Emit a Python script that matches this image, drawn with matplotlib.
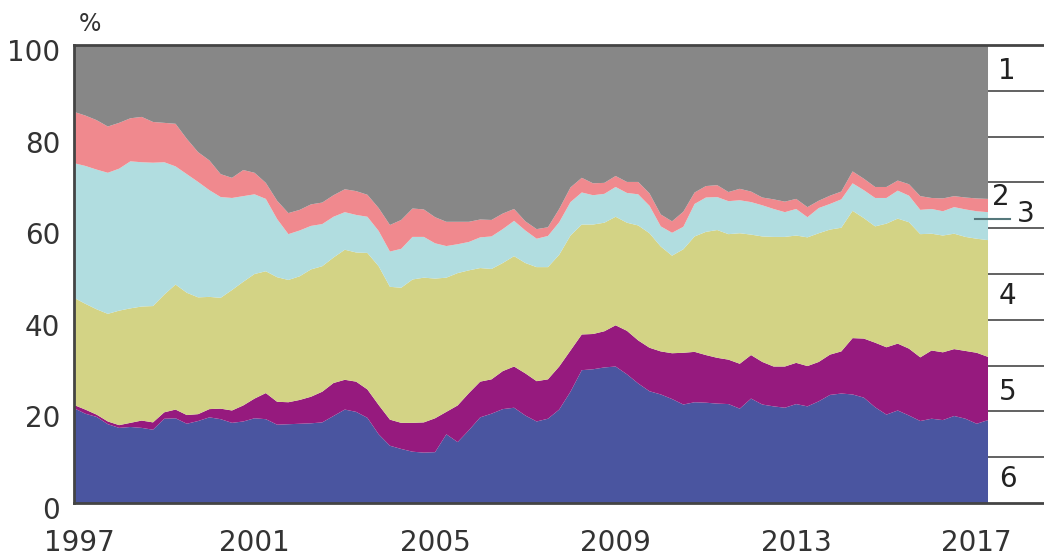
import numpy as np
import matplotlib
matplotlib.use("Agg")
import matplotlib.pyplot as plt
import matplotlib.transforms as mtransforms

# quarterly shares, % (1997 Q1 .. 2017 Q2)
quarters = 1997 + 0.25 * np.arange(82)

share_6 = [20.7, 19.5, 18.8, 17.2, 16.4, 16.6, 16.4, 16.0, 18.4, 18.5,
           17.3, 17.9, 18.7, 18.3, 17.5, 17.8, 18.5, 18.3, 17.1, 17.2,
           17.3, 17.4, 17.6, 19.0, 20.4, 19.9, 18.6, 15.0, 12.5, 11.8,
           11.2, 11.0, 11.1, 15.0, 13.3, 15.9, 18.7, 19.5, 20.5, 20.8,
           19.1, 17.8, 18.4, 20.4, 24.3, 29.0, 29.2, 29.6, 29.8, 28.1,
           26.1, 24.4, 23.7, 22.7, 21.5, 22.0, 21.9, 21.7, 21.6, 20.6,
           22.8, 21.5, 21.1, 20.8, 21.6, 21.1, 22.2, 23.6, 23.9, 23.7,
           23.0, 20.9, 19.3, 20.2, 19.1, 17.9, 18.4, 18.1, 19.0, 18.4,
           17.3, 18.1]
share_5 = [0.7, 0.9, 0.5, 0.6, 0.6, 0.9, 1.6, 1.6, 1.4, 1.9,
           1.9, 1.5, 1.8, 2.3, 2.7, 3.5, 4.3, 5.7, 5.0, 4.8,
           5.2, 5.8, 6.7, 7.2, 6.5, 6.6, 6.2, 6.4, 5.7, 5.7,
           6.3, 6.6, 7.4, 4.9, 8.0, 8.1, 7.8, 7.5, 8.3, 9.0,
           9.2, 8.8, 8.6, 9.4, 9.0, 7.8, 7.7, 7.9, 9.0, 9.5,
           9.4, 9.5, 9.4, 10.0, 11.3, 11.0, 10.4, 10.0, 9.7, 9.8,
           9.5, 9.3, 8.7, 9.0, 9.0, 8.8, 8.6, 8.8, 9.2, 12.3,
           12.9, 14.1, 14.7, 14.6, 14.6, 13.9, 14.9, 14.8, 14.6, 14.8,
           15.5, 13.8]
share_4 = [23.4, 23.1, 23.0, 23.5, 25.0, 25.0, 24.9, 25.4, 25.7, 27.3,
           26.7, 25.5, 24.5, 24.2, 26.3, 27.0, 27.2, 26.6, 27.2, 26.7,
           27.0, 27.8, 27.4, 27.4, 28.4, 28.2, 29.8, 30.3, 29.0, 29.5,
           31.3, 31.6, 30.5, 29.3, 28.9, 26.8, 24.8, 24.1, 23.6, 24.1,
           24.1, 24.9, 24.5, 24.4, 25.1, 24.0, 23.9, 23.7, 23.7, 23.6,
           25.1, 25.0, 22.9, 21.3, 22.6, 25.2, 26.9, 27.9, 27.4, 28.5,
           26.3, 27.4, 28.3, 28.3, 27.8, 28.1, 28.1, 27.3, 27.0, 27.8,
           26.3, 25.4, 27.0, 27.3, 27.6, 26.9, 25.5, 25.5, 25.2, 24.9,
           24.9, 25.5]
share_3 = [29.4, 30.1, 30.5, 30.8, 31.0, 32.1, 31.5, 31.3, 28.9, 25.8,
           25.9, 25.2, 23.3, 22.0, 20.1, 18.7, 17.4, 15.8, 12.7, 10.0,
           10.0, 9.5, 9.2, 8.9, 8.2, 8.2, 7.9, 7.7, 7.7, 8.5,
           9.3, 8.9, 7.7, 6.9, 6.3, 6.2, 6.7, 7.1, 7.4, 7.7,
           7.1, 6.2, 6.8, 7.1, 7.3, 7.0, 6.4, 6.3, 6.5, 6.5,
           6.8, 6.0, 4.4, 5.0, 4.9, 7.1, 7.5, 7.2, 7.2, 7.2,
           7.1, 6.8, 6.1, 5.4, 5.8, 4.4, 5.5, 5.6, 6.2, 6.0,
           6.1, 6.2, 5.6, 6.1, 5.8, 5.3, 5.4, 5.3, 5.8, 6.0,
           6.0, 6.1]
share_2 = [11.2, 11.0, 10.8, 10.1, 10.0, 9.4, 9.9, 8.9, 8.6, 9.3,
           7.7, 6.5, 6.5, 5.0, 4.4, 5.7, 4.7, 3.5, 4.0, 4.6,
           4.5, 4.7, 4.7, 4.7, 5.0, 5.2, 4.8, 5.0, 5.8, 6.3,
           6.2, 6.0, 5.7, 5.3, 4.9, 4.4, 3.9, 3.6, 3.4, 2.6,
           2.0, 2.1, 1.9, 2.9, 3.2, 3.2, 2.6, 2.4, 2.4, 2.4,
           2.7, 2.7, 2.6, 2.5, 3.3, 2.5, 2.5, 2.6, 2.0, 2.5,
           2.3, 1.7, 2.1, 2.3, 2.2, 2.2, 1.6, 1.8, 1.7, 2.6,
           2.5, 2.4, 2.4, 2.2, 2.5, 3.0, 2.4, 2.8, 2.4, 2.6,
           2.8, 2.9]
share_1 = [14.6, 15.4, 16.4, 17.8, 17.0, 16.0, 15.7, 16.8, 17.0, 17.2,
           20.5, 23.4, 25.2, 28.2, 29.0, 27.3, 27.9, 30.1, 34.0, 36.7,
           36.0, 34.8, 34.4, 32.8, 31.5, 31.9, 32.7, 35.6, 39.3, 38.2,
           35.7, 35.9, 37.6, 38.6, 38.6, 38.6, 38.1, 38.2, 36.8, 35.8,
           38.5, 40.2, 39.8, 35.8, 31.1, 29.0, 30.2, 30.1, 28.6, 29.9,
           29.9, 32.4, 37.0, 38.5, 36.4, 32.2, 30.8, 30.6, 32.1, 31.4,
           32.0, 33.3, 33.7, 34.2, 33.6, 35.4, 34.0, 32.9, 32.0, 27.6,
           29.2, 31.0, 31.0, 29.6, 30.4, 33.0, 33.4, 33.5, 33.0, 33.3,
           33.5, 33.6]

series = [share_6, share_5, share_4, share_3, share_2, share_1]
colors = ["#4a55a0", "#961a7e", "#d3d385", "#b1dde0", "#f0898e", "#878787"]

year_ticks = [1997, 2001, 2005, 2009, 2013, 2017]
y_ticks = [0, 20, 40, 60, 80, 100]

# series numbers in the right-hand margin
label_text = ["1", "2", "3", "4", "5", "6"]
label_x = [2017.67, 2017.54, 2018.09, 2017.69, 2017.69, 2017.69]
label_y = [94.3, 66.8, 63.1, 45.2, 24.2, 5.2]

fig = plt.figure(figsize=(10.44, 5.6), dpi=100)
ax = fig.add_axes([74 / 1044, 57 / 560, 970 / 1044, 458 / 560])

ax.stackplot(quarters, *series, colors=colors, linewidth=0)

x_end = quarters[-1]
x_right = x_end + 56 / 45.14
ax.set_xlim(quarters[0], x_right)
ax.set_ylim(0, 100)

# separator lines in the legend strip
ax.hlines(np.arange(10, 100, 10), x_end, x_right, colors="#555555", lw=1.3)
ax.plot([2016.96, 2017.74], [62.0, 62.0], color="#55787c", lw=1.5)

for t, x, y in zip(label_text, label_x, label_y):
    ax.text(x, y, t, fontsize=20, color="#222222", ha="center", va="center")

ax.set_xticks(year_ticks)
ax.set_yticks(y_ticks)
ax.tick_params(axis="both", length=0, labelsize=20, colors="#333333")
ax.tick_params(axis="x", pad=19)
ax.tick_params(axis="y", pad=10)
offset = mtransforms.ScaledTranslation(0, -5 / 100, fig.dpi_scale_trans)
for lab in ax.get_yticklabels():
    lab.set_transform(lab.get_transform() + offset)
first = ax.get_xticklabels()[0]
first.set_transform(first.get_transform() +
                    mtransforms.ScaledTranslation(5 / 100, 0, fig.dpi_scale_trans))

for side in ["left", "top", "bottom"]:
    ax.spines[side].set_color("#444444")
    ax.spines[side].set_linewidth(2)
ax.spines["right"].set_visible(False)

fig.text(90 / 1044, 1 - 24 / 560, "%", fontsize=17, color="#333333",
         ha="center", va="center")

fig.savefig("out.png", dpi=100)
